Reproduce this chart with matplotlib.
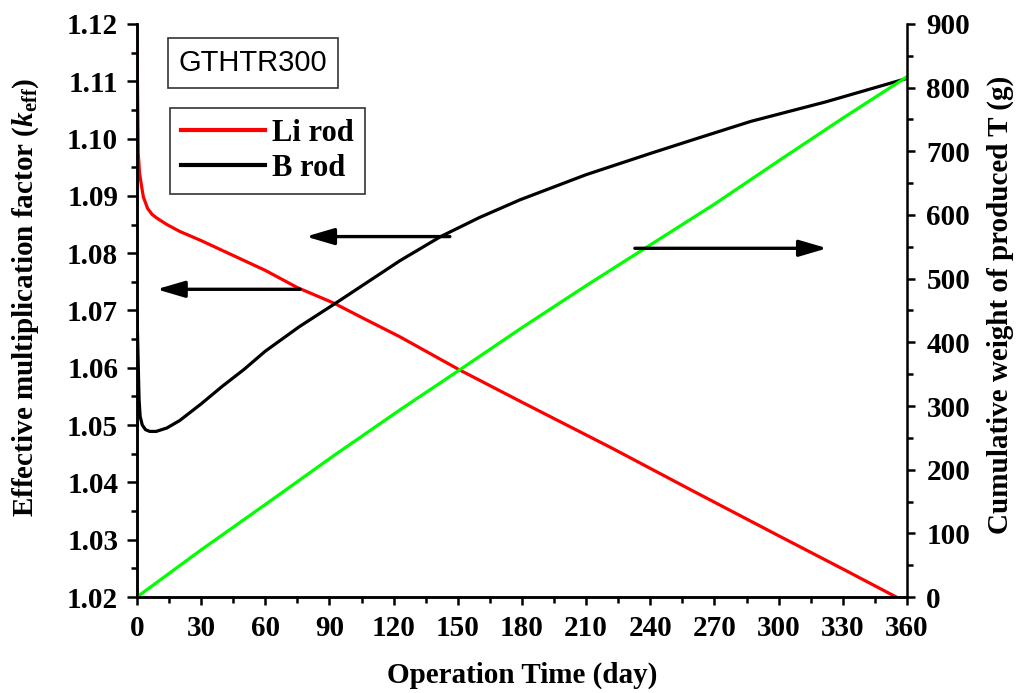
import matplotlib
matplotlib.use("Agg")
import matplotlib.pyplot as plt
from matplotlib.ticker import MultipleLocator

plt.rcParams['font.family'] = 'Liberation Serif'
plt.rcParams['font.weight'] = 'bold'
plt.rcParams['axes.labelweight'] = 'bold'
plt.rcParams['mathtext.fontset'] = 'custom'
plt.rcParams['mathtext.rm'] = 'Liberation Serif:bold'
plt.rcParams['mathtext.it'] = 'Liberation Serif:bold:italic'
plt.rcParams['mathtext.bf'] = 'Liberation Serif:bold'

# k_eff for the Li rod case (left axis)
li_days = [0, 0.3, 0.6, 1.2, 2.2, 3, 5, 7, 9, 14, 20, 30, 45, 60, 75, 92,
           105, 123, 151, 180, 222, 260, 300, 330, 355]
li_keff = [1.1172, 1.1080, 1.0975, 1.0940, 1.0916, 1.0898, 1.0878, 1.0868,
           1.0862, 1.0850, 1.0838, 1.0822, 1.0796, 1.0770, 1.0740, 1.0713,
           1.0688, 1.0654, 1.0596, 1.0540, 1.0460, 1.0385, 1.0307, 1.0249,
           1.0200]

# k_eff for the B rod case (left axis)
b_days = [0, 0.5, 1, 1.5, 2.5, 4, 6, 9, 14, 20, 30, 40, 50, 60, 76, 93,
          108, 123, 142, 160, 179, 210, 240, 260, 287, 322, 360]
b_keff = [1.0701, 1.0620, 1.0544, 1.0515, 1.0500, 1.0492, 1.0489, 1.0489,
          1.0495, 1.0508, 1.0537, 1.0568, 1.0597, 1.0629, 1.0672, 1.0713,
          1.0750, 1.0787, 1.0829, 1.0862, 1.0893, 1.0937, 1.0974, 1.0998,
          1.1030, 1.1064, 1.1105]

# cumulative produced tritium (right axis)
t_days = [0, 30, 62, 92, 123, 151, 180, 210, 240, 270, 300, 330, 360]
t_grams = [0, 74, 150, 222, 294, 357, 423, 489, 553, 617, 685, 752, 817]

fig = plt.figure(figsize=(10.19, 6.93), dpi=100)
ax = fig.add_axes([0.1344, 0.1385, 0.7556, 0.8269])
ax2 = ax.twinx()

ax.plot(li_days, li_keff, color='#ff0000', lw=2.3, label='Li rod')
ax.plot(b_days, b_keff, color='black', lw=2.3, label='B rod')
ax2.plot(t_days, t_grams, color='#00ff00', lw=2.3)

ax.set_xlim(0, 360)
ax.set_ylim(1.02, 1.12)
ax2.set_ylim(0, 900)

ax.xaxis.set_major_locator(MultipleLocator(30))
ax.xaxis.set_minor_locator(MultipleLocator(15))
ax.yaxis.set_major_locator(MultipleLocator(0.01))
ax.yaxis.set_minor_locator(MultipleLocator(0.005))
ax.yaxis.set_major_formatter(plt.FormatStrFormatter('%.2f'))
ax2.yaxis.set_major_locator(MultipleLocator(100))
ax2.yaxis.set_minor_locator(MultipleLocator(50))

for a in (ax, ax2):
    a.spines['top'].set_visible(False)
    for s in a.spines.values():
        s.set_linewidth(1.8)
ax.spines['right'].set_visible(False)

ax.tick_params(axis='x', which='major', direction='out', length=6, width=1.8,
               labelsize=21, pad=7)
ax.tick_params(axis='x', which='minor', direction='out', length=4, width=1.8)
ax.tick_params(axis='y', which='major', direction='out', length=7.5, width=1.8,
               labelsize=21, pad=6)
ax.tick_params(axis='y', which='minor', direction='out', length=4.5, width=1.8)
ax2.tick_params(axis='y', which='major', direction='out', length=6, width=1.8,
                labelsize=21, pad=8)
ax2.tick_params(axis='y', which='minor', direction='out', length=4, width=1.8)

ax.set_xlabel('Operation Time (day)', fontsize=21, labelpad=14)
ax.set_ylabel(r'Effective multiplication factor ($k_{\rm eff}$)', fontsize=21)
ax.yaxis.set_label_coords(-0.124, 0.522)
ax2.set_ylabel('Cumulative weight of produced T (g)', fontsize=21)
ax2.yaxis.set_label_coords(1.103, 0.51)

leg = ax.legend(loc='upper left', bbox_to_anchor=(0.043, 0.853),
                borderaxespad=0, fontsize=22, handlelength=2.75,
                handletextpad=0.25, labelspacing=0.2, borderpad=0.35,
                fancybox=False, framealpha=1)
leg.get_frame().set_edgecolor('#333333')
leg.get_frame().set_linewidth(1.2)
for h in leg.get_lines():
    h.set_linewidth(3)

ax.text(0.1506, 0.932, 'GTHTR300', transform=ax.transAxes, ha='center',
        va='center', fontsize=21, fontweight='normal',
        family='Liberation Sans',
        bbox=dict(boxstyle='square,pad=0.38', fc='white', ec='#333333', lw=1.2))

arrow = dict(arrowstyle='-|>,head_length=1.7,head_width=0.5',
             color='black', lw=2.4, mutation_scale=10, shrinkA=0, shrinkB=0)
ax.annotate('', xy=(79.0, 1.0829), xytext=(146.3, 1.0829), arrowprops=arrow)
ax.annotate('', xy=(9.2, 1.0737), xytext=(76.2, 1.0737), arrowprops=arrow)
ax2.annotate('', xy=(322.7, 547.7), xytext=(232.8, 547.7), arrowprops=arrow)

plt.savefig('out.png', dpi=100)
